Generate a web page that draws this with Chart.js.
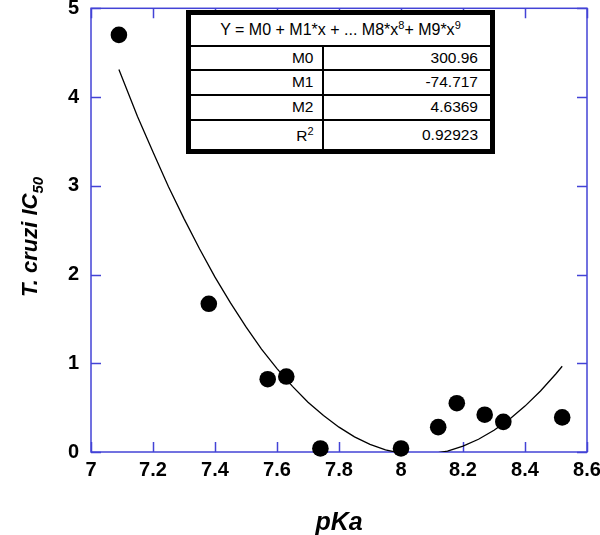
<!DOCTYPE html>
<html>
<head>
<meta charset="utf-8">
<script src="https://cdn.jsdelivr.net/npm/chart.js@4"></script>
<style>
  body { margin: 0; background: #fff; }
  #wrap { position: relative; width: 600px; height: 535px; }
  #fit {
    position: absolute; left: 186px; top: 10px; width: 309px;
    border-collapse: collapse; table-layout: fixed;
    border: 5px solid #000; background: #fff;
    font-family: 'Liberation Sans', Arial, sans-serif; font-size: 15.5px; color: #000;
  }
  #fit td { border: 2px solid #000; text-align: right; padding: 0 12px 0 4px; }
  #fit td.lbl { padding-right: 8px; }
  #fit td.head { text-align: center; padding: 0; font-size: 16px; }
  #fit sup { font-size: 11px; vertical-align: 6px; line-height: 0; }
</style>
</head>
<body>
<div id="wrap">
  <canvas id="c" width="600" height="535"></canvas>
  <table id="fit">
    <colgroup><col style="width:134px"><col></colgroup>
    <tr style="height:33px"><td class="head" colspan="2">Y = M0 + M1*x + ... M8*x<sup>8</sup>+ M9*x<sup>9</sup></td></tr>
    <tr style="height:24px"><td class="lbl">M0</td><td>300.96</td></tr>
    <tr style="height:25px"><td class="lbl">M1</td><td>-74.717</td></tr>
    <tr style="height:25px"><td class="lbl">M2</td><td>4.6369</td></tr>
    <tr style="height:32px"><td class="lbl" style="vertical-align:bottom;padding-bottom:4px">R<sup>2</sup></td><td>0.92923</td></tr>
  </table>
</div>
<script>
// measured points
const pKa = [7.09, 7.38, 7.57, 7.63, 7.74, 8.0, 8.12, 8.18, 8.27, 8.33, 8.52];
const ic50 = [4.70, 1.67, 0.82, 0.85, 0.04, 0.04, 0.28, 0.55, 0.42, 0.34, 0.39];

// fitted curve
const fitX = [7.09, 7.15, 7.2, 7.25, 7.3, 7.35, 7.4, 7.45, 7.5, 7.55, 7.6, 7.65, 7.7, 7.75,
              7.8, 7.85, 7.9, 7.95, 8.0, 8.05, 8.1, 8.15, 8.2, 8.25, 8.3, 8.35, 8.4, 8.45, 8.5, 8.52];
const fitY = [4.31, 3.78, 3.38, 2.99, 2.63, 2.29, 1.97, 1.68, 1.41, 1.16, 0.94, 0.74, 0.56, 0.41,
              0.28, 0.17, 0.085, 0.024, -0.014, -0.029, -0.02, 0.011, 0.066, 0.144, 0.245, 0.37, 0.517, 0.688, 0.882, 0.966];

const xTicks = [7, 7.2, 7.4, 7.6, 7.8, 8, 8.2, 8.4, 8.6];
const xTickLabels = ['7', '7.2', '7.4', '7.6', '7.8', '8', '8.2', '8.4', '8.6'];
const yTicks = [0, 1, 2, 3, 4, 5];

const BLUE = '#4343d6';

// blue box with inward ticks on all four sides
const framePlugin = {
    id: 'frame',
    beforeDatasetsDraw(chart) {
        const { ctx, chartArea: a, scales } = chart;
        ctx.save();
        ctx.strokeStyle = BLUE;
        ctx.lineWidth = 1.5;
        ctx.strokeRect(a.left, a.top, a.right - a.left, a.bottom - a.top);
        ctx.beginPath();
        xTicks.forEach(v => {
            const px = Math.round(scales.x.getPixelForValue(v)) + 0.5;
            ctx.moveTo(px, a.bottom); ctx.lineTo(px, a.bottom - 10);
            ctx.moveTo(px, a.top); ctx.lineTo(px, a.top + 10);
        });
        yTicks.forEach(v => {
            const py = Math.round(scales.y.getPixelForValue(v)) + 0.5;
            ctx.moveTo(a.left, py); ctx.lineTo(a.left + 10, py);
            ctx.moveTo(a.right, py); ctx.lineTo(a.right - 10, py);
        });
        ctx.stroke();
        ctx.restore();
    },
    afterDraw(chart) {
        // y axis title with subscript
        const ctx = chart.ctx;
        ctx.save();
        ctx.translate(31, 237);
        ctx.rotate(-Math.PI / 2);
        ctx.fillStyle = '#000';
        ctx.textBaseline = 'middle';
        ctx.font = 'italic bold 22px "Liberation Sans", Arial, sans-serif';
        const main = 'T. cruzi IC';
        const w = ctx.measureText(main).width;
        ctx.font = 'italic bold 15px "Liberation Sans", Arial, sans-serif';
        const ws = ctx.measureText('50').width;
        const x0 = -(w + ws) / 2;
        ctx.font = 'italic bold 22px "Liberation Sans", Arial, sans-serif';
        ctx.fillText(main, x0, 0);
        ctx.font = 'italic bold 15px "Liberation Sans", Arial, sans-serif';
        ctx.fillText('50', x0 + w, 8);
        ctx.restore();
    }
};

new Chart(document.getElementById('c'), {
    type: 'scatter',
    data: {
        datasets: [
            {
                type: 'line',
                data: fitX.map((x, i) => ({ x: x, y: fitY[i] })),
                borderColor: '#000',
                borderWidth: 1.3,
                pointRadius: 0,
                tension: 0,
                fill: false,
                clip: 0
            },
            {
                data: pKa.map((x, i) => ({ x: x, y: ic50[i] })),
                backgroundColor: '#000',
                borderColor: '#000',
                borderWidth: 0,
                pointRadius: 8.3,
                pointHoverRadius: 8.3,
                clip: false
            }
        ]
    },
    options: {
        responsive: false,
        animation: false,
        events: [],
        layout: { padding: { top: 7, right: 13, left: 0, bottom: 0 } },
        plugins: { legend: { display: false }, tooltip: { enabled: false } },
        scales: {
            x: {
                type: 'linear',
                min: 7, max: 8.6,
                afterBuildTicks: s => { s.ticks = xTicks.map(v => ({ value: v })); },
                afterFit: s => { s.height = 83; s.paddingLeft = 0; s.paddingRight = 0; },
                grid: { display: false, drawTicks: false },
                border: { display: false },
                ticks: {
                    padding: 6,
                    color: '#000',
                    callback: (v, i) => xTickLabels[i],
                    font: { family: '"Liberation Sans", Arial, sans-serif', size: 20, weight: 'bold' }
                },
                title: {
                    display: true,
                    text: 'pKa',
                    color: '#000',
                    padding: { top: 3, bottom: -3 },
                    font: { family: '"Liberation Sans", Arial, sans-serif', size: 25, weight: 'bold', style: 'italic' }
                }
            },
            y: {
                type: 'linear',
                min: 0, max: 5,
                afterBuildTicks: s => { s.ticks = yTicks.map(v => ({ value: v })); },
                afterFit: s => { s.width = 91; s.paddingTop = 0; s.paddingBottom = 0; },
                grid: { display: false, drawTicks: false },
                border: { display: false },
                ticks: {
                    padding: 12,
                    color: '#000',
                    font: { family: '"Liberation Sans", Arial, sans-serif', size: 20, weight: 'bold' }
                }
            }
        }
    },
    plugins: [framePlugin]
});
</script>
</body>
</html>
